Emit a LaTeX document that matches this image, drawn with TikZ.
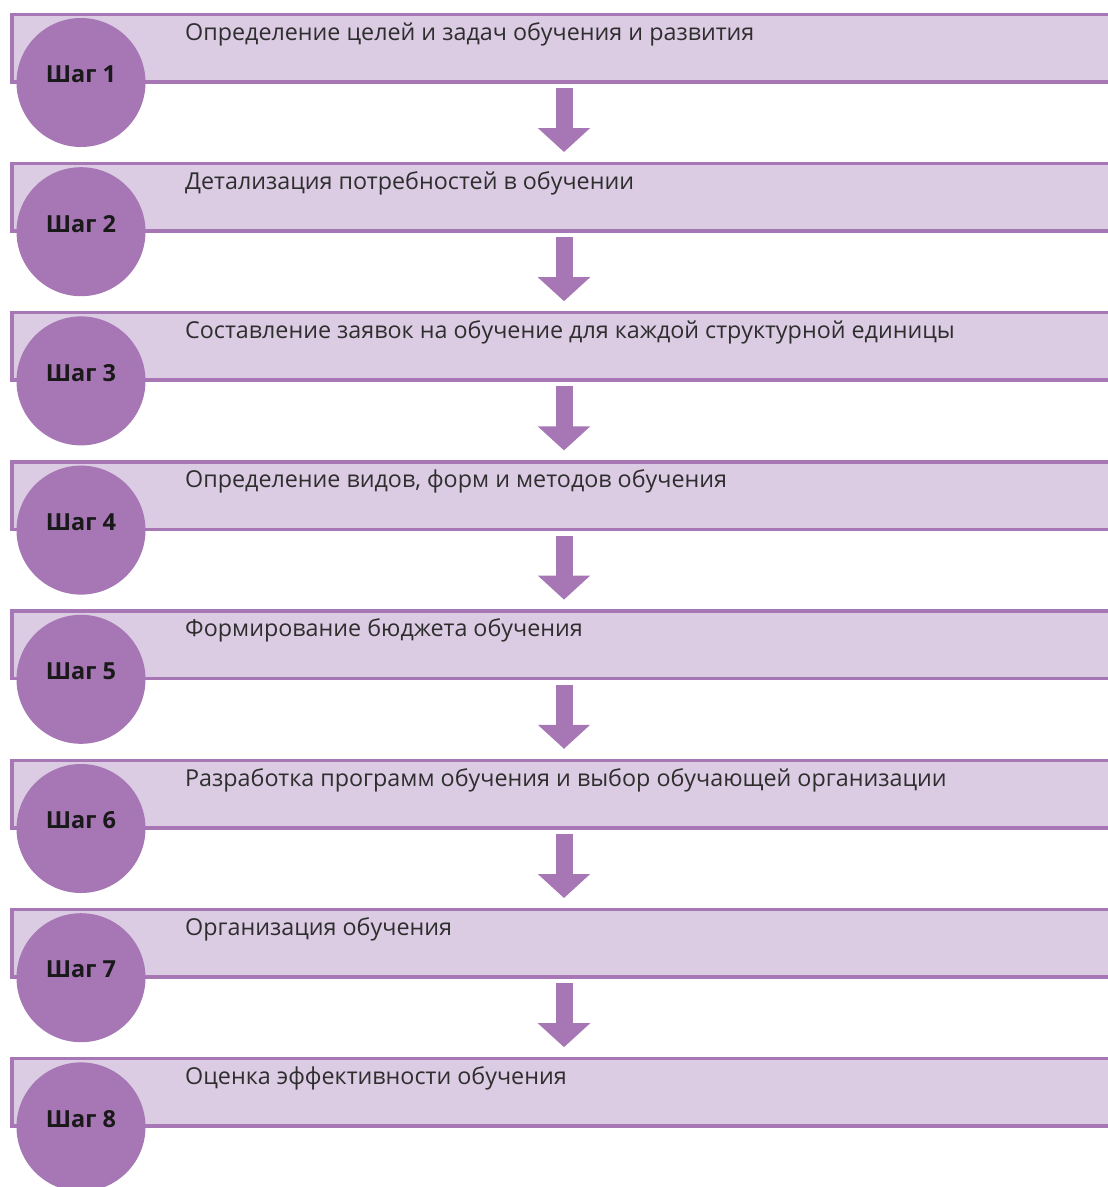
\documentclass[tikz,border=0pt]{standalone}
\usepackage{fontspec}
\setmainfont{Open Sans}
\usetikzlibrary{arrows.meta}

\definecolor{stepviolet}{RGB}{166,119,180}
\definecolor{steplilac}{RGB}{219,203,227}

\tikzset{
  stepbar/.style={draw=stepviolet, fill=steplilac, line width=3.5pt,
    anchor=north west, minimum width=1110pt, minimum height=67.5pt, inner sep=0pt},
  stepcircle/.style={circle, fill=stepviolet, minimum size=129pt, inner sep=0pt},
  steplabel/.style={font=\fontsize{23.5}{27}\selectfont\bfseries, text=black!90},
  steptext/.style={anchor=base west, font=\fontsize{23.3}{27}\selectfont, text=black!82, inner sep=0pt},
  fatarrow/.style={draw=stepviolet, line width=17pt, -{Triangle[length=24pt,width=51pt]}}
}

\begin{document}
\begin{tikzpicture}[x=1pt,y=-1pt]
      \useasboundingbox (0,0) rectangle (1108,1187);

      % step 1
      \node[stepbar] (bar1) at (10,12.5) {};
      \node[stepcircle] (circ1) at (81,82.5) {};
      \node[steplabel] (lab1) at ([yshift=8pt]circ1.center) {Шаг 1};
      \node[steptext] (txt1) at (185,40) {Определение целей и задач обучения и развития};
      \coordinate (from1) at (564,88);
      \coordinate (to1) at (564,152);
      \draw[fatarrow] (from1) -- (to1);

      % step 2
      \node[stepbar] (bar2) at (10,161.7) {};
      \node[stepcircle] (circ2) at (81,231.7) {};
      \node[steplabel] (lab2) at ([yshift=8pt]circ2.center) {Шаг 2};
      \node[steptext] (txt2) at (185,189.2) {Детализация потребностей в обучении};
      \coordinate (from2) at (564,237.2);
      \coordinate (to2) at (564,301.2);
      \draw[fatarrow] (from2) -- (to2);

      % step 3
      \node[stepbar] (bar3) at (10,310.9) {};
      \node[stepcircle] (circ3) at (81,380.9) {};
      \node[steplabel] (lab3) at ([yshift=8pt]circ3.center) {Шаг 3};
      \node[steptext] (txt3) at (185,338.4) {Составление заявок на обучение для каждой структурной единицы};
      \coordinate (from3) at (564,386.4);
      \coordinate (to3) at (564,450.4);
      \draw[fatarrow] (from3) -- (to3);

      % step 4
      \node[stepbar] (bar4) at (10,460.1) {};
      \node[stepcircle] (circ4) at (81,530.1) {};
      \node[steplabel] (lab4) at ([yshift=8pt]circ4.center) {Шаг 4};
      \node[steptext] (txt4) at (185,487.6) {Определение видов, форм и методов обучения};
      \coordinate (from4) at (564,535.6);
      \coordinate (to4) at (564,599.6);
      \draw[fatarrow] (from4) -- (to4);

      % step 5
      \node[stepbar] (bar5) at (10,609.3) {};
      \node[stepcircle] (circ5) at (81,679.3) {};
      \node[steplabel] (lab5) at ([yshift=8pt]circ5.center) {Шаг 5};
      \node[steptext] (txt5) at (185,636.8) {Формирование бюджета обучения};
      \coordinate (from5) at (564,684.8);
      \coordinate (to5) at (564,748.8);
      \draw[fatarrow] (from5) -- (to5);

      % step 6
      \node[stepbar] (bar6) at (10,758.5) {};
      \node[stepcircle] (circ6) at (81,828.5) {};
      \node[steplabel] (lab6) at ([yshift=8pt]circ6.center) {Шаг 6};
      \node[steptext] (txt6) at (185,786) {Разработка программ обучения и выбор обучающей организации};
      \coordinate (from6) at (564,834);
      \coordinate (to6) at (564,898);
      \draw[fatarrow] (from6) -- (to6);

      % step 7
      \node[stepbar] (bar7) at (10,907.7) {};
      \node[stepcircle] (circ7) at (81,977.7) {};
      \node[steplabel] (lab7) at ([yshift=8pt]circ7.center) {Шаг 7};
      \node[steptext] (txt7) at (185,935.2) {Организация обучения};
      \coordinate (from7) at (564,983.2);
      \coordinate (to7) at (564,1047.2);
      \draw[fatarrow] (from7) -- (to7);

      % step 8
      \node[stepbar] (bar8) at (10,1056.9) {};
      \node[stepcircle] (circ8) at (81,1126.9) {};
      \node[steplabel] (lab8) at ([yshift=8pt]circ8.center) {Шаг 8};
      \node[steptext] (txt8) at (185,1084.4) {Оценка эффективности обучения};

\end{tikzpicture}
\end{document}
